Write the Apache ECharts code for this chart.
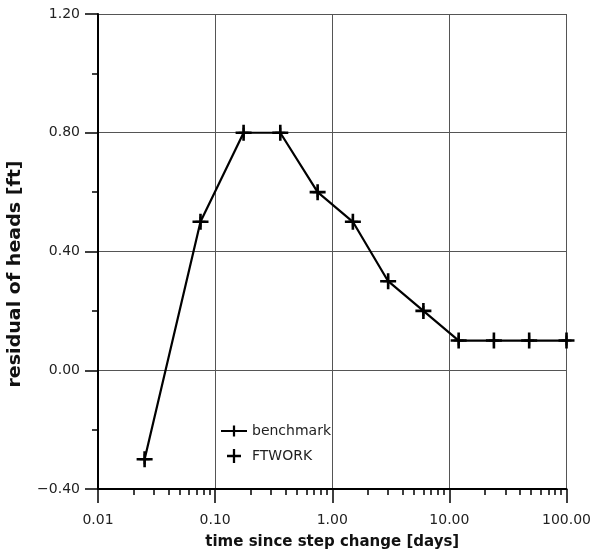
<!DOCTYPE html>
<html><head><meta charset="utf-8">
<script src="https://cdn.jsdelivr.net/npm/echarts@6/dist/echarts.min.js"></script>
<style>html,body{margin:0;padding:0;background:#fff}#c{width:594px;height:555px}</style>
</head><body><div id="c"></div>
<script>
const timeDays  = [0.025, 0.075, 0.175, 0.36, 0.75, 1.5, 3, 6, 12, 24, 48, 100];
const benchmark = [-0.30, 0.50, 0.80, 0.80, 0.60, 0.50, 0.30, 0.20, 0.10, 0.10, 0.10, 0.10];
const ftwork    = [-0.30, 0.50, 0.80, 0.80, 0.60, 0.50, 0.30, 0.20, 0.10, 0.10, 0.10, 0.10];
const xMinorTicks = [0.02,0.03,0.04,0.05,0.06,0.07,0.08,0.09,
                     0.2,0.3,0.4,0.5,0.6,0.7,0.8,0.9,
                     2,3,4,5,6,7,8,9,
                     20,30,40,50,60,70,80,90];
const xTitle = 'time since step change [days]';
const yTitle = 'residual of heads [ft]';

const FONT = '"DejaVu Sans", Verdana, sans-serif';
const bigPlus = 'path://M0,6.7 L16,6.7 L16,9.3 L0,9.3 Z M6.7,0 L9.3,0 L9.3,16 L6.7,16 Z';
const smallPlus = 'path://M0,4 L10,4 L10,6 L0,6 Z M4,0 L6,0 L6,10 L4,10 Z';

const chart = echarts.init(document.getElementById('c'), null, {renderer: 'canvas'});
chart.setOption({
  animation: false,
  backgroundColor: '#fff',
  grid: {left: 98, right: 25, top: 14, bottom: 66, containLabel: false},
  legend: {
    orient: 'vertical', left: 215, top: 419, itemWidth: 26, itemHeight: 14, itemGap: 11,
    textStyle: {fontFamily: FONT, fontSize: 14, color: '#222'},
    data: ['benchmark', 'FTWORK']
  },
  xAxis: [{
    type: 'log', logBase: 10, min: 0.01, max: 100,
    name: xTitle, nameLocation: 'middle', nameGap: 46,
    nameTextStyle: {fontFamily: FONT, fontSize: 15, fontWeight: 'bold', color: '#111'},
    axisLine: {show: true, onZero: false, lineStyle: {color: '#000', width: 2}},
    axisTick: {show: true, length: 14, lineStyle: {color: '#000', width: 1.5}},
    axisLabel: {fontFamily: FONT, fontSize: 14, color: '#222', margin: 24,
      formatter: v => Number(v).toFixed(2)},
    splitLine: {show: true, lineStyle: {color: '#555', width: 1}}
  }, {
    type: 'log', logBase: 10, min: 0.01, max: 100, position: 'bottom', gridIndex: 0,
    axisLine: {show: false, onZero: false},
    axisTick: {show: true, length: 6, customValues: xMinorTicks, lineStyle: {color: '#000', width: 1.5}},
    axisLabel: {show: false},
    splitLine: {show: false}
  }],
  yAxis: {
    type: 'value', min: -0.4, max: 1.2, interval: 0.4,
    axisLine: {show: true, onZero: false, lineStyle: {color: '#000', width: 2}},
    axisTick: {show: true, length: 13, lineStyle: {color: '#000', width: 1.5}},
    minorTick: {show: true, splitNumber: 2, length: 6, lineStyle: {color: '#000', width: 1.5}},
    axisLabel: {fontFamily: FONT, fontSize: 14, color: '#222', margin: 18,
      formatter: v => (v < -1e-9 ? '\u2212' : '') + Math.abs(v).toFixed(2)},
    splitLine: {show: true, lineStyle: {color: '#555', width: 1}}
  },
  graphic: [{
    type: 'text', x: 16, y: 274, rotation: Math.PI / 2, scaleX: 1.12,
    style: {text: yTitle, font: 'bold 17px ' + FONT, fill: '#111', align: 'center', verticalAlign: 'middle'}
  }],
  series: [{
    name: 'benchmark', type: 'line', xAxisIndex: 0,
    data: timeDays.map((t, i) => [t, benchmark[i]]),
    symbol: smallPlus, symbolSize: 10, showSymbol: true,
    lineStyle: {color: '#000', width: 2.2},
    itemStyle: {color: '#000'},
    z: 3
  }, {
    name: 'FTWORK', type: 'scatter', xAxisIndex: 0,
    data: timeDays.map((t, i) => [t, ftwork[i]]),
    symbol: bigPlus, symbolSize: 16,
    itemStyle: {color: '#000', opacity: 1},
    z: 4
  }]
});
</script></body></html>
